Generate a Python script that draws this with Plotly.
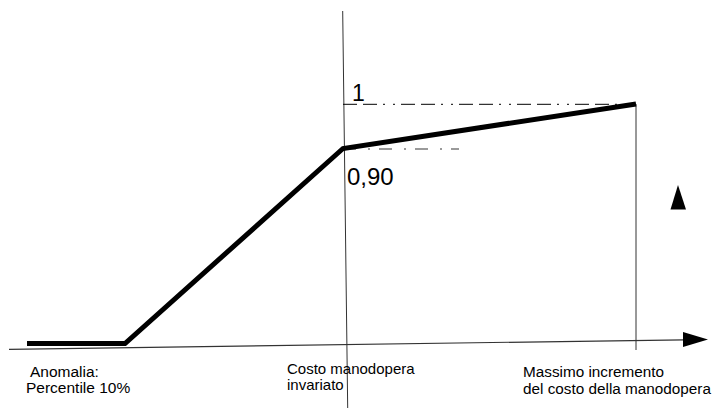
import plotly.graph_objects as go

# ---- data (diagram coordinates: x to the right, y downward, page units) ----
curve_x = [27, 125, 343, 636]
curve_y = [343.5, 343.5, 148.5, 104]

axis_x = [9, 684]
axis_y = [349.3, 339.8]
axis_head_x = [683, 708, 683, 683]
axis_head_y = [332, 339.5, 347, 332]

vline_mid_x = [342.7, 347.7]
vline_mid_y = [11, 408]
vline_max_x = [636, 636]
vline_max_y = [104, 350]

ref1_x = [343, 636]
ref1_y = [104.3, 104.3]
ref090_x = [343, 459]
ref090_y = [149, 149]

up_head_x = [670.5, 678, 686, 670.5]
up_head_y = [209.5, 185, 209.5, 209.5]

value_labels = ["1", "0,90"]
value_label_x = [349.5, 345]
value_label_y = [92.7, 176.2]
value_label_size = [23, 24]

bottom_lines = ["Anomalia:", "Percentile 10%",
                "Costo manodopera", "invariato",
                "Massimo incremento", "del costo della manodopera"]
bottom_x = [28, 24, 285, 285, 521, 521]
bottom_y = [371.7, 387.3, 368.0, 384.0, 371.2, 388.6]
bottom_size = [15.5, 15.5, 15, 15, 15.3, 15.3]

FONT = "Arial, Liberation Sans, sans-serif"

fig = go.Figure()

# x axis line + arrow head
fig.add_trace(go.Scatter(x=axis_x, y=axis_y, mode="lines",
                         line=dict(color="#333333", width=1.2), hoverinfo="skip"))
fig.add_trace(go.Scatter(x=axis_head_x, y=axis_head_y, mode="lines", fill="toself",
                         fillcolor="black", line=dict(color="black", width=0),
                         hoverinfo="skip"))
# vertical reference lines
fig.add_trace(go.Scatter(x=vline_mid_x, y=vline_mid_y, mode="lines",
                         line=dict(color="#333333", width=1), hoverinfo="skip"))
fig.add_trace(go.Scatter(x=vline_max_x, y=vline_max_y, mode="lines",
                         line=dict(color="#333333", width=1), hoverinfo="skip"))
# dash-dot reference levels
fig.add_trace(go.Scatter(x=ref1_x, y=ref1_y, mode="lines",
                         line=dict(color="black", width=1,
                                   dash="14px,6px,14px,6px,2px,8px,2px,6px"),
                         hoverinfo="skip"))
fig.add_trace(go.Scatter(x=ref090_x, y=ref090_y, mode="lines",
                         line=dict(color="#7a7a7a", width=1.5,
                                   dash="13px,12px,2px,9px"),
                         hoverinfo="skip"))
# main thick curve
fig.add_trace(go.Scatter(x=curve_x, y=curve_y, mode="lines",
                         line=dict(color="black", width=5), hoverinfo="skip"))
# up arrow head
fig.add_trace(go.Scatter(x=up_head_x, y=up_head_y, mode="lines", fill="toself",
                         fillcolor="black", line=dict(color="black", width=0),
                         hoverinfo="skip"))

for t, x, y, s in zip(value_labels, value_label_x, value_label_y, value_label_size):
    fig.add_annotation(x=x, y=y, text=t, showarrow=False, xanchor="left",
                       yanchor="middle", font=dict(family=FONT, size=s, color="black"))

for t, x, y, s in zip(bottom_lines, bottom_x, bottom_y, bottom_size):
    fig.add_annotation(x=x, y=y, text=t, showarrow=False, xanchor="left",
                       yanchor="middle", font=dict(family=FONT, size=s, color="black"))

fig.update_layout(
    width=716, height=409,
    margin=dict(l=0, r=0, t=0, b=0),
    paper_bgcolor="white", plot_bgcolor="white",
    showlegend=False,
    xaxis=dict(range=[0, 716], visible=False, fixedrange=True),
    yaxis=dict(range=[409, 0], visible=False, fixedrange=True),
)

fig.write_html(
    "out.html",
    config={"displayModeBar": False},
    post_script="document.body.style.margin='0';document.body.style.overflow='hidden';",
)
